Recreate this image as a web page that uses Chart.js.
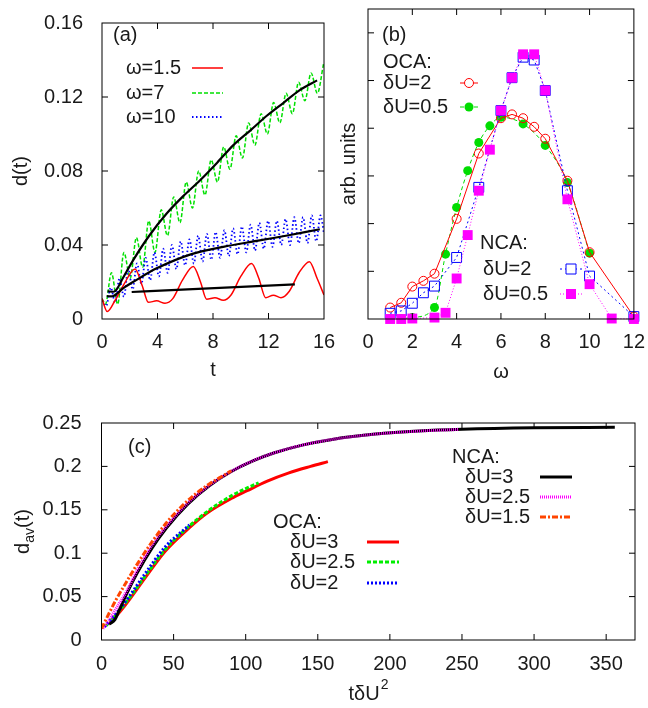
<!DOCTYPE html>
<html><head><meta charset="utf-8">
<script src="https://cdn.jsdelivr.net/npm/chart.js@4.4.0/dist/chart.umd.min.js"></script>
<style>
body{margin:0;background:#fff;width:648px;height:708px;position:relative;overflow:hidden}
canvas{position:absolute}
</style></head><body>
<canvas id="ca" width="345" height="390" style="left:0;top:0"></canvas>
<canvas id="cb" width="318" height="390" style="left:330px;top:0"></canvas>
<canvas id="cc" width="648" height="318" style="left:0;top:390px"></canvas>
<script>
// ---- panel (a): d(t) for three driving frequencies
const tW15 = [0, 0.38, 0.94, 1.6, 2.38, 2.9, 3.34, 3.94, 4.54, 5.1, 5.8, 6.58, 7.1, 7.54, 8.14, 8.74, 9.3, 10.0, 10.78, 11.3, 11.8, 12.35, 12.9, 13.5, 14.2, 14.95, 15.5, 16];
const dW15 = [0.011, 0.004, 0.010, 0.019, 0.027, 0.018, 0.009, 0.0098, 0.0085, 0.011, 0.021, 0.0284, 0.020, 0.0107, 0.0115, 0.0101, 0.013, 0.023, 0.030, 0.022, 0.0115, 0.0129, 0.0115, 0.015, 0.025, 0.031, 0.022, 0.013];
const tW7 = [0, 0.25, 0.68, 1.13, 1.58, 2.03, 2.48, 2.93, 3.37, 3.82, 4.27, 4.72, 5.17, 5.62, 6.07, 6.52, 6.97, 7.42, 7.87, 8.32, 8.77, 9.22, 9.67, 10.12, 10.57, 11.02, 11.47, 11.92, 12.37, 12.82, 13.27, 13.72, 14.17, 14.62, 15.07, 15.52, 15.97];
const dW7 = [0.011, 0.008, 0.025, 0.008, 0.036, 0.022, 0.044, 0.028, 0.053, 0.036, 0.059, 0.045, 0.066, 0.052, 0.074, 0.060, 0.080, 0.067, 0.086, 0.074, 0.093, 0.081, 0.099, 0.087, 0.106, 0.094, 0.111, 0.100, 0.117, 0.106, 0.122, 0.111, 0.128, 0.118, 0.133, 0.122, 0.138];
const tW10 = [0, 0.3, 0.63, 0.95, 1.26, 1.58, 1.89, 2.21, 2.52, 2.84, 3.15, 3.47, 3.78, 4.10, 4.41, 4.73, 5.04, 5.36, 5.67, 5.99, 6.30, 6.62, 6.93, 7.25, 7.56, 7.88, 8.19, 8.51, 8.82, 9.14, 9.45, 9.77, 10.08, 10.40, 10.71, 11.03, 11.34, 11.66, 11.97, 12.29, 12.60, 12.92, 13.23, 13.55, 13.86, 14.18, 14.49, 14.81, 15.12, 15.44, 15.75, 16.0];
const dW10 = [0.010, 0.007, 0.017, 0.009, 0.022, 0.012, 0.027, 0.016, 0.030, 0.019, 0.033, 0.021, 0.036, 0.023, 0.038, 0.025, 0.040, 0.027, 0.042, 0.029, 0.043, 0.030, 0.045, 0.031, 0.046, 0.032, 0.047, 0.033, 0.048, 0.034, 0.049, 0.035, 0.050, 0.036, 0.051, 0.037, 0.052, 0.038, 0.053, 0.039, 0.053, 0.040, 0.054, 0.040, 0.055, 0.041, 0.055, 0.041, 0.056, 0.042, 0.056, 0.046];
const tFit7 = [0.4, 0.94, 1.5, 2.26, 3.4, 4.66, 5.8, 7.07, 8.3, 9.47, 10.7, 11.9, 13.1, 14.3, 15.5];
const dFit7 = [0.015, 0.015, 0.022, 0.032, 0.045, 0.057, 0.066, 0.075, 0.0845, 0.094, 0.102, 0.110, 0.117, 0.124, 0.129];
const tFit10 = [0.34, 0.82, 1.54, 2.26, 3.94, 6.34, 8.74, 11.15, 13.55, 15.7];
const dFit10 = [0.0124, 0.0124, 0.0167, 0.0201, 0.0274, 0.0348, 0.039, 0.0422, 0.0454, 0.0485];
const tFit15 = [2.14, 13.9];
const dFit15 = [0.0146, 0.0187];

// ---- panel (b): spectra vs omega
const wOca2 = [1, 1.5, 2, 2.5, 3, 4, 5, 6, 6.5, 7, 7.5, 8, 9, 10, 12];
const aOca2 = [0.24, 0.34, 0.68, 0.80, 0.95, 2.10, 3.47, 4.21, 4.29, 4.21, 4.03, 3.78, 2.90, 1.40, 0.05];
const wOca05 = [1, 1.5, 2, 3, 3.5, 4, 4.5, 5, 5.5, 6, 7, 8, 9, 10];
const aOca05 = [0.01, 0.01, 0.03, 0.24, 1.36, 2.34, 3.11, 3.70, 4.05, 4.23, 4.09, 3.64, 2.86, 1.38];
const wNca2 = [1, 1.5, 2, 2.5, 3, 4, 5, 6, 6.5, 7, 7.5, 8, 9, 10, 12];
const aNca2 = [0.12, 0.17, 0.33, 0.55, 0.69, 1.29, 2.76, 4.37, 5.06, 5.49, 5.43, 4.79, 2.69, 0.90, 0.05];
const wNca05 = [1, 1.5, 2, 3, 3.5, 4, 4.5, 5, 5.5, 6, 6.5, 7, 7.5, 8, 9, 10, 11, 12];
const aNca05 = [0, 0, 0.01, 0.03, 0.13, 0.85, 1.76, 2.69, 3.55, 4.37, 5.06, 5.55, 5.55, 4.79, 2.51, 0.73, 0.01, 0];

// ---- panel (c): d_av vs t dU^2
const xNca3 = [5.4, 9.3, 12, 17.4, 25, 35, 45, 60, 75, 90, 105, 120, 140, 160, 190, 220, 250, 300, 356];
const yNca3 = [0.0184, 0.0235, 0.0332, 0.0531, 0.0779, 0.1058, 0.129, 0.1568, 0.178, 0.1941, 0.2064, 0.2157, 0.2248, 0.2311, 0.2372, 0.2407, 0.2427, 0.2444, 0.2451];
const xNca25 = [1, 5, 10, 17.4, 25, 35, 45, 60, 75, 90, 105, 120, 140, 160, 190, 220, 248];
const yNca25 = [0.013, 0.022, 0.036, 0.056, 0.081, 0.109, 0.131, 0.158, 0.1785, 0.1943, 0.2065, 0.2157, 0.2248, 0.2311, 0.2372, 0.2407, 0.2426];
const xNca15 = [0, 5, 10, 17, 25, 35, 45, 55, 65, 75, 85, 90];
const yNca15 = [0.013, 0.030, 0.046, 0.066, 0.088, 0.113, 0.135, 0.153, 0.168, 0.180, 0.190, 0.195];
const xOca3 = [5, 10, 15, 20, 30, 44, 60, 73, 90, 101, 115, 130, 145, 157];
const yOca3 = [0.018, 0.027, 0.037, 0.048, 0.071, 0.102, 0.128, 0.146, 0.163, 0.172, 0.183, 0.1925, 0.200, 0.2055];
const xOca25 = [3, 10, 20, 30, 44, 60, 75, 90, 100, 109];
const yOca25 = [0.016, 0.029, 0.050, 0.073, 0.104, 0.130, 0.150, 0.166, 0.1745, 0.181];
const xOca2 = [2, 10, 20, 30, 44, 61];
const yOca2 = [0.015, 0.030, 0.052, 0.076, 0.107, 0.1325];

const FAM = "'Liberation Sans', Arial, sans-serif";
const FONT = '20px ' + FAM;
const SMALL = '14px ' + FAM;
const INK = '#1a1a1a';
const pts = (xs, ys) => xs.map((x, i) => ({x, y: ys[i]}));
const fmt = v => String(Number(v.toFixed(3)));

// gnuplot-like box with inward mirrored ticks
const frame = {
  id: 'frame',
  afterDatasetsDraw(chart) {
    const {ctx, chartArea: a, scales: {x, y}} = chart;
    ctx.save();
    ctx.strokeStyle = '#000';
    ctx.lineWidth = 1;
    ctx.setLineDash([]);
    ctx.strokeRect(a.left, a.top, a.width, a.height);
    ctx.beginPath();
    x.ticks.forEach(t => {
      const p = x.getPixelForValue(t.value);
      if (p <= a.left + 1 || p >= a.right - 1) return;
      ctx.moveTo(p, a.bottom); ctx.lineTo(p, a.bottom - 6);
      ctx.moveTo(p, a.top); ctx.lineTo(p, a.top + 6);
    });
    y.ticks.forEach(t => {
      const p = y.getPixelForValue(t.value);
      if (p <= a.top + 1 || p >= a.bottom - 1) return;
      ctx.moveTo(a.left, p); ctx.lineTo(a.left + 6, p);
      ctx.moveTo(a.right, p); ctx.lineTo(a.right - 6, p);
    });
    ctx.stroke();
    ctx.restore();
  }
};

function text(ctx, s, x, y, align) {
  ctx.font = FONT;
  ctx.fillStyle = INK;
  ctx.textAlign = align || 'left';
  ctx.textBaseline = 'middle';
  ctx.fillText(s, x, y);
}

function sample(ctx, x1, x2, y, color, width, dash, marker) {
  ctx.save();
  ctx.strokeStyle = color;
  ctx.lineWidth = width;
  ctx.setLineDash(dash || []);
  ctx.beginPath(); ctx.moveTo(x1, y); ctx.lineTo(x2, y); ctx.stroke();
  if (marker) {
    const m = (x1 + x2) / 2;
    ctx.setLineDash([]);
    ctx.lineWidth = 1;
    ctx.fillStyle = color;
    ctx.beginPath();
    if (marker === 'circle' || marker === 'dot') ctx.arc(m, y, 4.5, 0, Math.PI * 2);
    else ctx.rect(m - 5, y - 5, 10, 10);
    if (marker === 'dot' || marker === 'fsq') ctx.fill(); else { ctx.fillStyle = '#fff'; ctx.fill(); ctx.stroke(); }
  }
  ctx.restore();
}

function axes(xmin, xmax, xstep, ymin, ymax, ystep, yw, xh, showY) {
  return {
    x: {
      type: 'linear', min: xmin, max: xmax,
      grid: {display: false}, border: {display: false},
      ticks: {stepSize: xstep, includeBounds: false, padding: 3, color: INK, font: {family: FAM, size: 20}, callback: fmt, maxRotation: 0, autoSkip: false},
      afterFit: s => { s.height = xh; }
    },
    y: {
      type: 'linear', min: ymin, max: ymax,
      grid: {display: false}, border: {display: false},
      ticks: {display: showY, stepSize: ystep, includeBounds: false, padding: 11, color: INK, font: {family: FAM, size: 20}, callback: fmt, autoSkip: false},
      afterFit: s => { s.width = yw; }
    }
  };
}

const titleFont = {family: FAM, size: 20};
const line = (data, color, width, dash, extra) => Object.assign({
  data, borderColor: color, backgroundColor: color, borderWidth: width,
  borderDash: dash || [], pointRadius: 0, fill: false, cubicInterpolationMode: 'monotone'
}, extra || {});

// ---------- (a)
const optA = axes(0, 16, 4, 0, 0.16, 0.04, 102, 71, true);
optA.x.title = {display: true, text: 't', color: INK, font: titleFont, padding: {bottom: 8}};
optA.y.title = {display: true, text: 'd(t)', color: INK, font: titleFont, padding: {top: 9}};
new Chart(document.getElementById('ca'), {
  type: 'line',
  data: {datasets: [
    line(pts(tFit7, dFit7), '#000', 2.2, null, {tension: 0.3, cubicInterpolationMode: 'default'}),
    line(pts(tFit10, dFit10), '#000', 2.2, null, {tension: 0.3, cubicInterpolationMode: 'default'}),
    line(pts(tFit15, dFit15), '#000', 2.2),
    line(pts(tW15, dW15), '#ff0000', 1.5),
    line(pts(tW10, dW10), '#0000ff', 1.8, [1.5, 2.5]),
    line(pts(tW7, dW7), '#00e000', 1.5, [4, 2])
  ]},
  options: {
    responsive: false, animation: false,
    layout: {padding: {top: 9, right: 21, left: 0, bottom: 0}},
    plugins: {legend: {display: false}, tooltip: {enabled: false}},
    scales: optA
  },
  plugins: [frame, {
    id: 'legA',
    afterDraw(chart) {
      const ctx = chart.ctx;
      text(ctx, '(a)', 113, 35);
      text(ctx, 'ω=1.5', 126, 68);
      text(ctx, 'ω=7', 126, 93);
      text(ctx, 'ω=10', 126, 117);
      sample(ctx, 192, 223, 68, '#ff0000', 1.5);
      sample(ctx, 192, 223, 93, '#00e000', 1.5, [4, 2]);
      sample(ctx, 192, 223, 117, '#0000ff', 1.8, [1.5, 2.5]);
    }
  }]
});

// ---------- (b)
const optB = axes(0, 12, 2, 0, 6.5, 1, 38, 71, false);
optB.x.title = {display: true, text: 'ω', color: INK, font: titleFont, padding: {bottom: 6}};
optB.y.title = {display: true, text: 'arb. units', color: INK, font: titleFont, padding: {top: 7}};
new Chart(document.getElementById('cb'), {
  type: 'line',
  data: {datasets: [
    line(pts(wNca05, aNca05), '#ff00ff', 1, [1, 2], {cubicInterpolationMode: 'default', tension: 0, pointStyle: 'rect', pointRadius: 7, pointBackgroundColor: '#ff00ff', pointBorderWidth: 0, clip: false}),
    line(pts(wNca2, aNca2), '#0000ff', 1, [2, 3], {cubicInterpolationMode: 'default', tension: 0, pointStyle: 'rect', pointRadius: 7, pointBackgroundColor: 'rgba(0,0,0,0)', pointBorderWidth: 1, clip: false}),
    line(pts(wOca2, aOca2), '#ff0000', 1, null, {cubicInterpolationMode: 'default', tension: 0, pointStyle: 'circle', pointRadius: 4.5, pointBackgroundColor: 'rgba(0,0,0,0)', pointBorderWidth: 1, clip: false}),
    line(pts(wOca05, aOca05), '#00dd00', 1, [4, 3], {pointStyle: 'circle', pointRadius: 4.5, pointBackgroundColor: '#00dd00', pointBorderWidth: 0, clip: false})
  ]},
  options: {
    responsive: false, animation: false,
    layout: {padding: {top: 9, right: 12, left: 0, bottom: 0}},
    plugins: {legend: {display: false}, tooltip: {enabled: false}},
    scales: optB
  },
  plugins: [frame, {
    id: 'legB',
    afterDraw(chart) {
      const ctx = chart.ctx;
      text(ctx, '(b)', 52, 35);
      text(ctx, 'OCA:', 53, 62);
      text(ctx, 'δU=2', 53, 83);
      text(ctx, 'δU=0.5', 53, 107);
      sample(ctx, 130, 148, 83, '#ff0000', 1, null, 'circle');
      sample(ctx, 130, 148, 107, '#00dd00', 1, [4, 3], 'dot');
      text(ctx, 'NCA:', 150, 243);
      text(ctx, 'δU=2', 153, 269);
      text(ctx, 'δU=0.5', 153, 294);
      sample(ctx, 230, 252, 269, '#0000ff', 1, [2, 3], 'osq');
      sample(ctx, 230, 252, 294, '#ff00ff', 1, [1, 2], 'fsq');
    }
  }]
});

// ---------- (c)
const optC = axes(0, 370, 50, 0, 0.25, 0.05, 101.5, 68, true);
optC.x.ticks.padding = 4;
optC.y.ticks.padding = 12;
new Chart(document.getElementById('cc'), {
  type: 'line',
  data: {datasets: [
    line(pts(xNca15, yNca15), '#ff4500', 3, [6, 2, 2, 2]),
    line(pts(xNca25, yNca25), '#ff00ff', 3, [1, 1]),
    line(pts(xNca3, yNca3), '#000000', 3),
    line(pts(xOca2, yOca2), '#0000ff', 3, [2, 2]),
    line(pts(xOca25, yOca25), '#00ee00', 3, [4, 2]),
    line(pts(xOca3, yOca3), '#ff0000', 3)
  ]},
  options: {
    responsive: false, animation: false,
    layout: {padding: {top: 33, right: 13, left: 0, bottom: 0}},
    plugins: {legend: {display: false}, tooltip: {enabled: false}},
    scales: optC
  },
  plugins: [frame, {
    id: 'legC',
    afterDraw(chart) {
      const ctx = chart.ctx;
      text(ctx, '(c)', 128, 57);
      text(ctx, 'OCA:', 273, 132);
      text(ctx, 'δU=3', 290, 152);
      text(ctx, 'δU=2.5', 290, 172);
      text(ctx, 'δU=2', 290, 193);
      sample(ctx, 367, 399, 152, '#ff0000', 3);
      sample(ctx, 367, 399, 172, '#00ee00', 3, [4, 2]);
      sample(ctx, 367, 399, 193, '#0000ff', 3, [2, 2]);
      text(ctx, 'NCA:', 452, 67);
      text(ctx, 'δU=3', 465, 87);
      text(ctx, 'δU=2.5', 465, 107);
      text(ctx, 'δU=1.5', 465, 127);
      sample(ctx, 540, 572, 87, '#000000', 3);
      sample(ctx, 540, 572, 107, '#ff00ff', 3, [1, 1]);
      sample(ctx, 540, 572, 127, '#ff4500', 3, [6, 2, 2, 2]);
      // axis titles with sub/superscripts
      ctx.save();
      ctx.fillStyle = INK;
      ctx.textBaseline = 'alphabetic';
      ctx.textAlign = 'left';
      ctx.translate(29, 141.5);
      ctx.rotate(-Math.PI / 2);
      ctx.font = FONT;
      const wd = ctx.measureText('d').width;
      const wt = ctx.measureText('(t)').width;
      ctx.font = SMALL;
      const wav = ctx.measureText('av').width;
      const x0 = -(wd + wav + wt) / 2;
      ctx.font = FONT;
      ctx.fillText('d', x0, 0);
      ctx.fillText('(t)', x0 + wd + wav, 0);
      ctx.font = SMALL;
      ctx.fillText('av', x0 + wd, 5);
      ctx.restore();
      ctx.save();
      ctx.fillStyle = INK;
      ctx.textBaseline = 'alphabetic';
      ctx.textAlign = 'left';
      ctx.font = FONT;
      const wm = ctx.measureText('tδU').width;
      ctx.font = SMALL;
      const w2 = ctx.measureText('2').width;
      const xs = 368 - (wm + w2) / 2;
      ctx.font = FONT;
      ctx.fillText('tδU', xs, 310);
      ctx.font = SMALL;
      ctx.fillText('2', xs + wm + 1, 299);
      ctx.restore();
    }
  }]
});
</script>
</body></html>
